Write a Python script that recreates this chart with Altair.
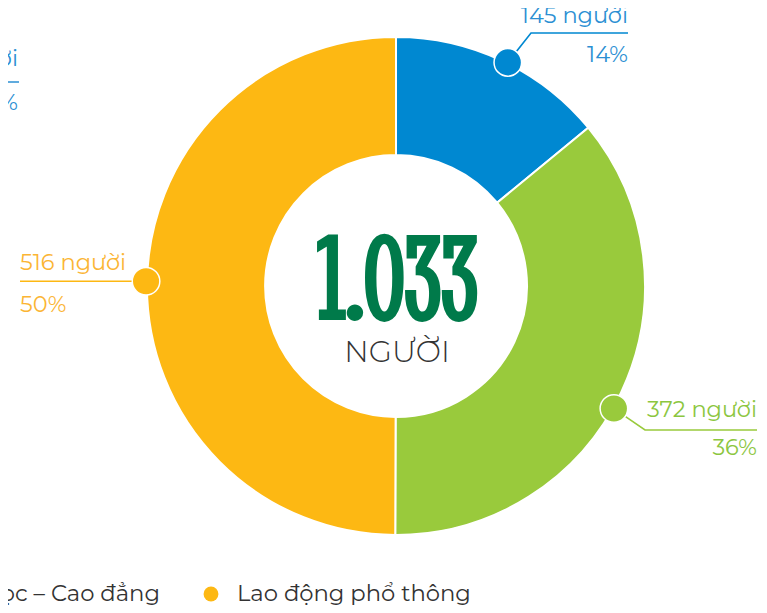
import math
import altair as alt
import pandas as pd

# ---------------- data ----------------
categories = ["Đại học – Cao đẳng", "Trung cấp – Công nhân kỹ thuật", "Lao động phổ thông"]
values = [145, 372, 516]
slice_colors = ["#0088d1", "#99ca3c", "#fdb813"]
label_colors = ["#2b8fd3", "#8cc63f", "#fbb534"]
unit = "người"
center_unit = "NGƯỜI"
legend_items = ["Đại học – Cao đẳng", "Lao động phổ thông"]
legend_colors = ["#0088d1", "#fdb813"]
cut_label = ["người", "%"]          # partly visible label at the top-left edge

# ---------------- fonts ----------------
SANS = "Montserrat, 'DejaVu Sans', sans-serif"
BIG = "'Stint Ultra Condensed', 'Six Caps', Oswald, 'Roboto Condensed', serif"

# ---------------- layout (view px; page px minus 8) ----------------
W, H = 751, 597
CX, CY = 388, 278
R_OUT, R_IN = 249, 131
R_MARK = 250
label_layout = [
    dict(nudge=1.3, path=[(523, 25), (620, 25)], tx=620, align="right", y1=15, y2=54),
    dict(nudge=4.0, path=[(637, 422), (749, 422)], tx=749, align="right", y1=409, y2=447),
    dict(nudge=1.0, path=[(12, None)], tx=12, align="left", y1=262, y2=304),
]

total = sum(values)
total_label = f"{total:,}".replace(",", ".")

df = pd.DataFrame({"cat": categories, "value": values, "idx": list(range(len(values)))})
color_scale = alt.Scale(domain=categories, range=slice_colors)

arcs = alt.Chart(df).mark_arc(
    outerRadius=R_OUT, innerRadius=R_IN, stroke="white", strokeWidth=2
).encode(
    theta=alt.Theta("value:Q", stack=True),
    color=alt.Color("cat:N", scale=color_scale, legend=None),
    order=alt.Order("idx:Q"),
    x=alt.value(CX),
    y=alt.value(CY),
)

cum = 0
mark_rows, line_rows, text_rows = [], [], []
for i, (c, v) in enumerate(zip(categories, values)):
    lay = label_layout[i]
    a = 2 * math.pi * (cum + v / 2) / total + math.radians(lay["nudge"])
    cum += v
    mx = CX + R_MARK * math.sin(a)
    my = CY - R_MARK * math.cos(a)
    mark_rows.append(dict(cat=c, mx=mx, my=my))
    pts = [(mx, my)] + [(px, my if py is None else py) for px, py in lay["path"]]
    for k, (px, py) in enumerate(pts):
        line_rows.append(dict(cat=c, k=k, lx=px, ly=py))
    pct = round(100 * v / total)
    text_rows.append(dict(cat=c, t=f"{v} {unit}", tx=lay["tx"], ty=lay["y1"], align=lay["align"], col=label_colors[i]))
    text_rows.append(dict(cat=c, t=f"{pct}%", tx=lay["tx"], ty=lay["y2"], align=lay["align"], col=label_colors[i]))

mdf = pd.DataFrame(mark_rows)
ldf = pd.DataFrame(line_rows)
tdf = pd.DataFrame(text_rows)

lines = alt.Chart(ldf).mark_line(strokeWidth=1.6).encode(
    x=alt.X("lx:Q", scale=None, axis=None),
    y=alt.Y("ly:Q", scale=None, axis=None),
    color=alt.Color("cat:N", scale=color_scale, legend=None),
    detail="cat:N",
    order="k:Q",
)

markers = alt.Chart(mdf).mark_point(
    filled=True, shape="circle", size=760, stroke="white", strokeWidth=1.5, opacity=1
).encode(
    x=alt.X("mx:Q", scale=None, axis=None),
    y=alt.Y("my:Q", scale=None, axis=None),
    fill=alt.Fill("cat:N", scale=color_scale, legend=None),
)

def label_layer(align):
    sub = tdf[tdf["align"] == align]
    return alt.Chart(sub).mark_text(
        align=align, baseline="alphabetic", font=SANS, fontSize=22.5
    ).encode(
        x=alt.X("tx:Q", scale=None, axis=None),
        y=alt.Y("ty:Q", scale=None, axis=None),
        text="t:N",
        color=alt.Color("col:N", scale=None, legend=None),
    )

cut_df = pd.DataFrame({"t": cut_label, "tx": [10, 10], "ty": [58, 102]})
cut_text = alt.Chart(cut_df).mark_text(
    align="right", baseline="alphabetic", font=SANS, fontSize=22.5, color="#2b8fd3"
).encode(
    x=alt.X("tx:Q", scale=None, axis=None),
    y=alt.Y("ty:Q", scale=None, axis=None),
    text="t:N",
)
cut_line_df = pd.DataFrame({"lx": [-60, 11], "ly": [74, 74]})
cut_line = alt.Chart(cut_line_df).mark_line(strokeWidth=1.6, color="#2b8fd3").encode(
    x=alt.X("lx:Q", scale=None, axis=None),
    y=alt.Y("ly:Q", scale=None, axis=None),
)

center_df = pd.DataFrame({"t": [total_label, center_unit], "ty": [310, 354],
                          "col": ["#007a4a", "#333333"]})
center_big = alt.Chart(center_df.iloc[[0]]).mark_text(
    align="center", baseline="alphabetic", font=BIG, fontSize=122, fontWeight="bold"
).encode(
    x=alt.value(CX + 2),
    y=alt.Y("ty:Q", scale=None, axis=None),
    text="t:N",
    color=alt.Color("col:N", scale=None, legend=None),
)
center_small = alt.Chart(center_df.iloc[[1]]).mark_text(
    align="center", baseline="alphabetic", font=SANS, fontWeight=300, fontSize=30
).encode(
    x=alt.value(CX + 1),
    y=alt.Y("ty:Q", scale=None, axis=None),
    text="t:N",
    color=alt.Color("col:N", scale=None, legend=None),
)

leg_df = pd.DataFrame({"t": legend_items, "col": legend_colors,
                       "dx": [-110, 203], "tx": [152, 229], "align": ["right", "left"]})
leg_dots = alt.Chart(leg_df).mark_point(filled=True, shape="circle", size=220, opacity=1).encode(
    x=alt.X("dx:Q", scale=None, axis=None),
    y=alt.value(586),
    fill=alt.Fill("col:N", scale=None, legend=None),
)
leg_txt_r = alt.Chart(leg_df.iloc[[0]]).mark_text(
    align="right", baseline="alphabetic", font=SANS, fontSize=22.7, color="#333333"
).encode(x=alt.X("tx:Q", scale=None, axis=None), y=alt.value(593), text="t:N")
leg_txt_l = alt.Chart(leg_df.iloc[[1]]).mark_text(
    align="left", baseline="alphabetic", font=SANS, fontSize=22.7, color="#333333"
).encode(x=alt.X("tx:Q", scale=None, axis=None), y=alt.value(593), text="t:N")

chart = alt.layer(
    arcs, lines, markers, label_layer("right"), label_layer("left"),
    cut_line, cut_text, center_big, center_small, leg_dots, leg_txt_r, leg_txt_l
).properties(
    width=W, height=H, padding=0, background="white",
    autosize=alt.AutoSizeParams(type="none"),
).configure_view(strokeWidth=0, stroke="transparent")

chart.save("out.html", embed_options={"renderer": "svg", "actions": False})
